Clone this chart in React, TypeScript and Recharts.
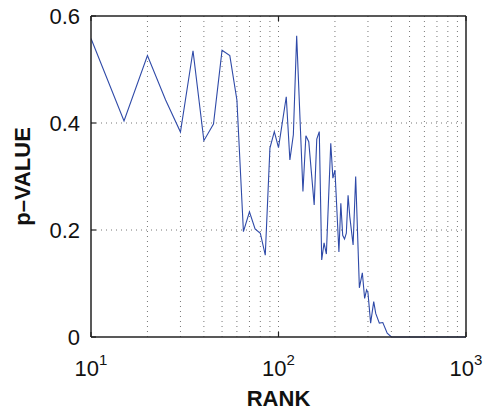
import { LineChart, Line, XAxis, YAxis, ReferenceLine } from "recharts";

// rank (log x) and p-value
const ranks = [
  10, 15, 20, 25, 30, 35, 40, 45, 50, 55, 60, 65, 70, 75, 80, 85, 90, 95, 100,
  110, 115, 120, 125, 135, 140, 145, 155, 160, 165, 170, 175, 180, 190, 195,
  200, 210, 215, 220, 225, 230, 235, 240, 250, 258, 270, 280, 288, 295, 300,
  310, 322, 330, 345, 360, 380, 400, 450, 500, 600, 700, 800, 900, 1000,
];
const pValues = [
  0.558, 0.404, 0.526, 0.443, 0.383, 0.535, 0.367, 0.398, 0.536, 0.526, 0.443,
  0.197, 0.234, 0.202, 0.194, 0.153, 0.353, 0.384, 0.354, 0.449, 0.331, 0.378,
  0.563, 0.272, 0.376, 0.365, 0.247, 0.37, 0.384, 0.144, 0.176, 0.155, 0.362,
  0.297, 0.312, 0.159, 0.25, 0.19, 0.183, 0.194, 0.265, 0.225, 0.172, 0.3,
  0.092, 0.12, 0.072, 0.088, 0.083, 0.026, 0.066, 0.044, 0.026, 0.027, 0.007,
  0, 0, 0, 0, 0, 0, 0, 0,
];

const xTicks = [10, 100, 1000];
const yTicks = [0, 0.2, 0.4, 0.6];
const xGrid = [20, 30, 40, 50, 60, 70, 80, 90, 100, 200, 300, 400, 500, 600, 700, 800, 900];
const yGrid = [0.2, 0.4];

const data = ranks.map((r, i) => ({ rank: r, p: pValues[i] }));

const font = "'Liberation Sans', Arial, Helvetica, sans-serif";
const axisColor = "#222";

// bottom tick: inward tick mark + 10^n label
const PowTick = (props: any) => {
  const { x, y, payload } = props;
  const exp = Math.round(Math.log10(payload.value));
  return (
    <g>
      <line x1={x} x2={x} y1={y} y2={y - 5} stroke={axisColor} strokeWidth={1.2} />
      <text x={x} y={y + 39} textAnchor="middle" fontFamily={font} fontSize={22} fill="#111">
        <tspan>10</tspan>
        <tspan dy={-11} fontSize={15}>{exp}</tspan>
      </text>
    </g>
  );
};

const LeftTick = (props: any) => {
  const { x, y, payload } = props;
  const label = payload.value === 0 ? "0" : payload.value.toFixed(1);
  return (
    <g>
      <line x1={x + 11} x2={x + 16} y1={y} y2={y} stroke={axisColor} strokeWidth={1.2} />
      <text x={x} y={y} dy="0.36em" textAnchor="end" fontFamily={font} fontSize={22} fill="#111">
        {label}
      </text>
    </g>
  );
};

const RightTick = (props: any) => {
  const { x, y } = props;
  return <line x1={x - 5} x2={x} y1={y} y2={y} stroke={axisColor} strokeWidth={1.2} />;
};

const TopTick = (props: any) => {
  const { x, y } = props;
  return <line x1={x} x2={x} y1={y} y2={y + 5} stroke={axisColor} strokeWidth={1.2} />;
};

export default function App() {
  return (
    <div style={{ position: "absolute", left: 0, top: 0, background: "#fff" }}>
      <LineChart
        width={487}
        height={411}
        data={data}
        margin={{ top: 15, right: 20, left: 0, bottom: 0 }}
      >
        {xGrid.map((v) => (
          <ReferenceLine key={"x" + v} x={v} stroke="#777" strokeDasharray="1 4" strokeWidth={1} />
        ))}
        {yGrid.map((v) => (
          <ReferenceLine key={"y" + v} y={v} stroke="#777" strokeDasharray="1 4" strokeWidth={1} />
        ))}
        <XAxis
          dataKey="rank"
          type="number"
          scale="log"
          domain={[10, 1000]}
          ticks={xTicks}
          allowDataOverflow
          height={74}
          stroke={axisColor}
          strokeWidth={1.5}
          tickLine={false}
          tickSize={0}
          tickMargin={0}
          tick={<PowTick />}
          label={(p: any) => {
            const vb = p.viewBox;
            return (
              <text
                x={vb.x + vb.width / 2}
                y={406}
                textAnchor="middle"
                fontFamily={font}
                fontWeight="bold"
                fontSize={22}
                fill="#111"
              >
                RANK
              </text>
            );
          }}
        />
        <XAxis
          xAxisId="top"
          dataKey="rank"
          type="number"
          scale="log"
          domain={[10, 1000]}
          ticks={xTicks}
          orientation="top"
          height={1}
          tickSize={0}
          tickMargin={0}
          tickLine={false}
          tick={<TopTick />}
          stroke={axisColor}
          strokeWidth={1.5}
          allowDataOverflow
        />
        <YAxis
          type="number"
          domain={[0, 0.6]}
          ticks={yTicks}
          width={91}
          stroke={axisColor}
          strokeWidth={1.5}
          tickLine={false}
          tickSize={0}
          tickMargin={11}
          tick={<LeftTick />}
          label={(p: any) => {
            const vb = p.viewBox;
            const cy = vb.y + vb.height / 2;
            return (
              <text
                x={30}
                y={cy}
                transform={`rotate(-90 30 ${cy})`}
                textAnchor="middle"
                fontFamily={font}
                fontWeight="bold"
                fontSize={22}
                fill="#111"
              >
                p–VALUE
              </text>
            );
          }}
        />
        <YAxis
          yAxisId="right"
          orientation="right"
          type="number"
          domain={[0, 0.6]}
          ticks={yTicks}
          width={1}
          tickSize={0}
          tickMargin={0}
          tickLine={false}
          tick={<RightTick />}
          stroke={axisColor}
          strokeWidth={1.5}
        />
        <Line
          type="linear"
          dataKey="p"
          stroke="#2f4aa8"
          strokeWidth={1.1}
          dot={false}
          isAnimationActive={false}
        />
      </LineChart>
    </div>
  );
}
